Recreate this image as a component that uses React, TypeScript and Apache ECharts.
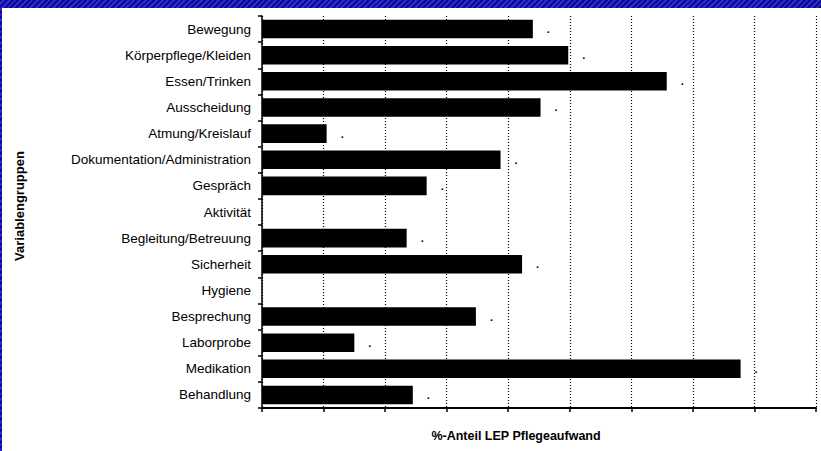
import React, { useEffect, useRef } from "react";
import * as echarts from "echarts";

const categories = [
  "Bewegung",
  "Körperpflege/Kleiden",
  "Essen/Trinken",
  "Ausscheidung",
  "Atmung/Kreislauf",
  "Dokumentation/Administration",
  "Gespräch",
  "Aktivität",
  "Begleitung/Betreuung",
  "Sicherheit",
  "Hygiene",
  "Besprechung",
  "Laborprobe",
  "Medikation",
  "Behandlung",
];

const values = [8.8, 9.95, 13.15, 9.05, 2.1, 7.75, 5.35, 0, 4.7, 8.45, 0, 6.95, 3.0, 15.55, 4.9];

const xMin = 0;
const xMax = 18;
const xInterval = 2;

const xAxisTitle = "%-Anteil LEP Pflegeaufwand";
const yAxisTitle = "Variablengruppen";

export default function App() {
  const ref = useRef<HTMLDivElement>(null);

  useEffect(() => {
    if (!ref.current) return;
    const chart = echarts.init(ref.current, null, { renderer: "svg" });
    const font = "Liberation Sans, Arial, sans-serif";
    chart.setOption({
      animation: false,
      backgroundColor: "#ffffff",
      grid: { left: 260, right: 5, top: 8, bottom: 43, containLabel: false },
      xAxis: {
        type: "value",
        min: xMin,
        max: xMax,
        interval: xInterval,
        axisLine: { show: true, lineStyle: { color: "#000", width: 2 } },
        axisTick: { show: true, inside: false, length: 4, lineStyle: { color: "#000", width: 1.5 } },
        axisLabel: { show: false },
        splitLine: { show: true, lineStyle: { color: "#000", type: [1, 2], width: 1.2 } },
      },
      yAxis: {
        type: "category",
        inverse: true,
        data: categories,
        axisLine: { show: true, lineStyle: { color: "#000", width: 1.5 } },
        axisTick: { show: true, length: 4, lineStyle: { color: "#000", width: 1.5 } },
        axisLabel: { color: "#000", fontSize: 13.5, fontFamily: font, margin: 11 },
        splitLine: { show: false },
      },
      series: [
        {
          type: "bar",
          data: values,
          barCategoryGap: "29%",
          itemStyle: { color: "#000" },
          label: {
            show: true,
            position: "right",
            distance: 14,
            color: "#000",
            fontSize: 11,
            fontWeight: "bold",
            fontFamily: font,
            formatter: (p: any) => (p.value > 0 ? "." : ""),
          },
        },
      ],
      graphic: [
        {
          type: "text",
          x: 514,
          y: 428,
          style: {
            text: xAxisTitle,
            font: `bold 12.5px ${font}`,
            fill: "#000",
            textAlign: "center",
            textVerticalAlign: "middle",
            align: "center",
            verticalAlign: "middle",
          },
        },
        {
          type: "text",
          x: 17,
          y: 198,
          rotation: Math.PI / 2,
          style: {
            text: yAxisTitle,
            font: `bold 13px ${font}`,
            fill: "#000",
            textAlign: "center",
            textVerticalAlign: "middle",
            align: "center",
            verticalAlign: "middle",
          },
        },
      ],
    });
    return () => chart.dispose();
  }, []);

  return (
    <div
      style={{
        position: "fixed",
        left: 0,
        top: 0,
        width: 821,
        height: 451,
        background:
          "repeating-linear-gradient(135deg, #0c0c8a 0px, #0c0c8a 2px, #2a2ad6 2px, #2a2ad6 4px)",
        overflow: "hidden",
      }}
    >
      <div
        ref={ref}
        style={{ position: "absolute", left: 2, top: 8, width: 819, height: 443, background: "#fff" }}
      />
    </div>
  );
}
